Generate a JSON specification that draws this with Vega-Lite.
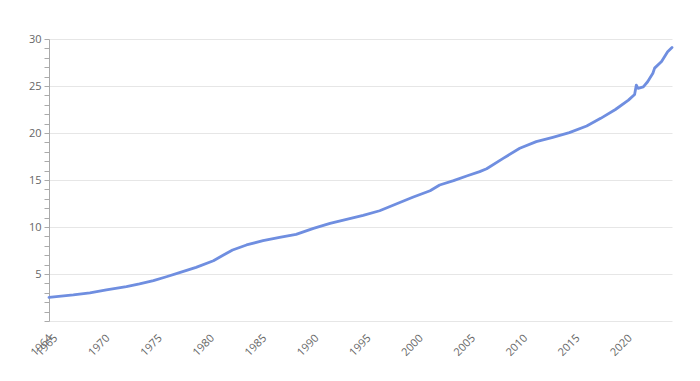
{
  "$schema": "https://vega.github.io/schema/vega-lite/v6.json",
  "autosize": "none",
  "width": 623,
  "height": 282,
  "padding": {"left": 49, "top": 39, "right": 28, "bottom": 60},
  "background": "white",
  "config": {"view": {"stroke": null}, "font": "Open Sans"},
  "data": {"values": [
    {"date": "1964-01-01", "value": 2.52},
    {"date": "1966-05-01", "value": 2.77},
    {"date": "1967-12-01", "value": 3.00},
    {"date": "1969-07-01", "value": 3.30},
    {"date": "1971-06-01", "value": 3.65},
    {"date": "1972-09-01", "value": 3.94},
    {"date": "1974-01-01", "value": 4.29},
    {"date": "1975-04-01", "value": 4.71},
    {"date": "1976-07-01", "value": 5.14},
    {"date": "1977-05-01", "value": 5.43},
    {"date": "1978-02-01", "value": 5.71},
    {"date": "1979-10-01", "value": 6.41},
    {"date": "1980-09-01", "value": 6.99},
    {"date": "1981-08-01", "value": 7.55},
    {"date": "1982-12-01", "value": 8.09},
    {"date": "1984-07-01", "value": 8.54},
    {"date": "1986-02-01", "value": 8.90},
    {"date": "1987-09-01", "value": 9.22},
    {"date": "1989-05-01", "value": 9.86},
    {"date": "1990-12-01", "value": 10.39},
    {"date": "1992-07-01", "value": 10.82},
    {"date": "1994-02-01", "value": 11.24},
    {"date": "1995-09-01", "value": 11.73},
    {"date": "1997-04-01", "value": 12.45},
    {"date": "1998-11-01", "value": 13.16},
    {"date": "2000-07-01", "value": 13.86},
    {"date": "2001-06-01", "value": 14.47},
    {"date": "2002-10-01", "value": 14.93},
    {"date": "2004-01-01", "value": 15.43},
    {"date": "2005-04-01", "value": 15.89},
    {"date": "2005-12-01", "value": 16.2},
    {"date": "2007-07-01", "value": 17.3},
    {"date": "2009-02-01", "value": 18.37},
    {"date": "2010-09-01", "value": 19.08},
    {"date": "2012-04-01", "value": 19.54},
    {"date": "2013-11-01", "value": 20.04},
    {"date": "2015-07-01", "value": 20.74},
    {"date": "2016-11-01", "value": 21.56},
    {"date": "2018-04-01", "value": 22.5},
    {"date": "2019-07-01", "value": 23.5},
    {"date": "2020-02-01", "value": 24.1},
    {"date": "2020-04-01", "value": 25.1},
    {"date": "2020-06-01", "value": 24.75},
    {"date": "2020-12-01", "value": 24.9},
    {"date": "2021-05-01", "value": 25.45},
    {"date": "2021-11-01", "value": 26.35},
    {"date": "2022-01-01", "value": 26.9},
    {"date": "2022-09-01", "value": 27.6},
    {"date": "2023-04-01", "value": 28.65},
    {"date": "2023-09-01", "value": 29.1}
  ]},
  "mark": {"type": "line", "color": "#6f8ee0", "strokeWidth": 2.8, "strokeJoin": "round", "strokeCap": "round"},
  "encoding": {
    "x": {
      "field": "date", "type": "temporal",
      "scale": {"domain": ["1964-01-01", "2023-09-01"], "nice": false},
      "axis": {
        "title": null,
        "values": ["1964-07-01", "1965-01-01", "1970-01-01", "1975-01-01", "1980-01-01", "1985-01-01", "1990-01-01", "1995-01-01", "2000-01-01", "2005-01-01", "2010-01-01", "2015-01-01", "2020-01-01"],
        "format": "%Y",
        "labelAngle": -45,
        "labelAlign": "right",
        "labelBaseline": "top",
        "labelPadding": 11,
        "labelOffset": -8,
        "labelOverlap": false,
        "labelFontSize": 11,
        "labelColor": "#666666",
        "labelFont": "Open Sans",
        "ticks": false,
        "grid": false,
        "domainColor": "#e6e6e6",
        "domainWidth": 1
      }
    },
    "y": {
      "field": "value", "type": "quantitative",
      "scale": {"domain": [0, 30], "nice": false, "zero": true},
      "axis": {
        "title": null,
        "values": [0,1,2,3,4,5,6,7,8,9,10,11,12,13,14,15,16,17,18,19,20,21,22,23,24,25,26,27,28,29,30],
        "labelExpr": "datum.value % 5 === 0 && datum.value > 0 ? datum.label : ''",
        "labelFontSize": 11,
        "labelColor": "#666666",
        "labelFont": "Open Sans",
        "labelPadding": 3,
        "tickSize": 5,
        "tickColor": "#aaaaaa",
        "domainColor": "#aaaaaa",
        "grid": true,
        "gridColor": "#e6e6e6",
        "gridOpacity": {"condition": {"test": "datum.value % 5 === 0 && datum.value > 0", "value": 1}, "value": 0}
      }
    }
  }
}
